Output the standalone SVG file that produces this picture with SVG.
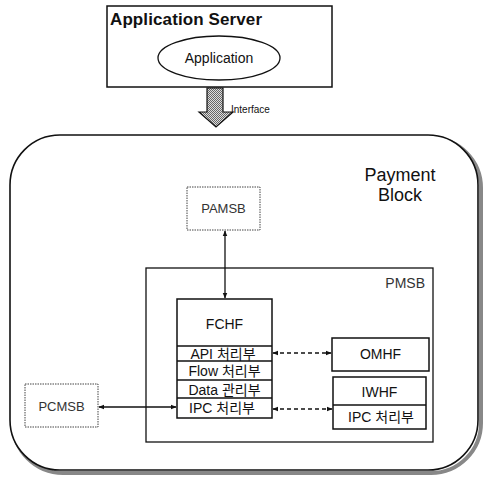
<svg xmlns="http://www.w3.org/2000/svg" width="484" height="484" viewBox="0 0 484 484">
<style>
text{font-family:"Liberation Sans","Noto Sans CJK KR",Arial,sans-serif;fill:#111}
.box{fill:#fff;stroke:#111;stroke-width:1.5}
.lite{fill:#fff;stroke:#444;stroke-width:1;stroke-dasharray:1.5 1}
.gt{fill:#333}
.row{font-size:14px}
.ln{stroke:#111;stroke-width:1.3;fill:none}
.dash{stroke-dasharray:4 3}
</style>
<defs>
<marker id="ah" viewBox="0 0 10 10" refX="9" refY="5" markerWidth="6" markerHeight="6" orient="auto-start-reverse" markerUnits="userSpaceOnUse">
<path d="M0,1 L10,5 L0,9 z" fill="#111"/>
</marker>
<pattern id="chk" width="2" height="2" patternUnits="userSpaceOnUse">
<rect width="2" height="2" fill="#ddd"/>
<rect width="1" height="1" fill="#666"/>
<rect x="1" y="1" width="1" height="1" fill="#666"/>
</pattern>
</defs>
<rect width="484" height="484" fill="#fff"/>
<g id="app-server">
<rect class="box" x="107" y="6" width="225" height="81"/>
<text x="110" y="25" font-size="17" font-weight="bold" textLength="152">Application Server</text>
</g>
<g id="application">
<ellipse cx="219" cy="58" rx="61" ry="22" fill="#fff" stroke="#111" stroke-width="1.3"/>
<text x="219" y="63" font-size="14" text-anchor="middle">Application</text>
</g>
<g id="interface">
<path d="M207,88 L223,88 L223,112 L233,112 L216,127 L199,112 L207,112 z" fill="url(#chk)" stroke="#111" stroke-width="1.2"/>
<text x="231" y="113" font-size="10">Interface</text>
</g>
<g id="payment-block">
<rect x="13" y="138" width="468" height="335" rx="50" fill="none" stroke="#888" stroke-width="4"/>
<rect x="10" y="135" width="468" height="335" rx="50" fill="#fff" stroke="#111" stroke-width="1.6"/>
<text x="400" y="181" font-size="18" text-anchor="middle">Payment</text>
<text x="400" y="201" font-size="18" text-anchor="middle">Block</text>
</g>
<g id="pamsb">
<rect class="lite" x="187" y="187" width="73" height="43"/>
<text class="gt" x="223.5" y="213" font-size="13" text-anchor="middle">PAMSB</text>
</g>
<g id="pmsb">
<rect x="146" y="268" width="287" height="174" fill="#fff" stroke="#111" stroke-width="1.3"/>
<text class="gt" x="425" y="288" font-size="14" text-anchor="end">PMSB</text>
</g>
<g id="fchf">
<rect class="box" x="177" y="299" width="95" height="119"/>
<text x="224.5" y="329" font-size="14" text-anchor="middle">FCHF</text>
<line class="ln" x1="177" y1="346" x2="272" y2="346"/>
<line class="ln" x1="177" y1="361" x2="272" y2="361"/>
<line class="ln" x1="177" y1="380" x2="272" y2="380"/>
<line class="ln" x1="177" y1="398" x2="272" y2="398"/>
<text class="row" x="223" y="359" text-anchor="middle">API 처리부</text>
<text class="row" x="224.5" y="376" text-anchor="middle">Flow 처리부</text>
<text class="row" x="224.5" y="394.5" text-anchor="middle">Data 관리부</text>
<text class="row" x="222" y="413" text-anchor="middle">IPC 처리부</text>
</g>
<g id="omhf">
<rect class="box" x="332" y="338" width="97" height="33"/>
<text x="380.5" y="359" font-size="14" text-anchor="middle">OMHF</text>
</g>
<g id="iwhf">
<rect class="box" x="333" y="377" width="93" height="52"/>
<line class="ln" x1="333" y1="405" x2="426" y2="405"/>
<text x="379.5" y="397" font-size="14" text-anchor="middle">IWHF</text>
<text class="row" x="381" y="422" text-anchor="middle">IPC 처리부</text>
</g>
<g id="pcmsb">
<rect class="lite" x="25" y="384" width="73" height="43"/>
<text class="gt" x="61.5" y="411" font-size="13" text-anchor="middle">PCMSB</text>
</g>
<g id="connectors">
<line class="ln" x1="225" y1="231" x2="225" y2="298" marker-start="url(#ah)" marker-end="url(#ah)"/>
<line class="ln" x1="99" y1="407" x2="176" y2="407" marker-start="url(#ah)" marker-end="url(#ah)"/>
<line class="ln dash" x1="273" y1="353" x2="331" y2="353" marker-start="url(#ah)" marker-end="url(#ah)"/>
<line class="ln dash" x1="273" y1="409" x2="332" y2="409" marker-start="url(#ah)" marker-end="url(#ah)"/>
</g>
</svg>
